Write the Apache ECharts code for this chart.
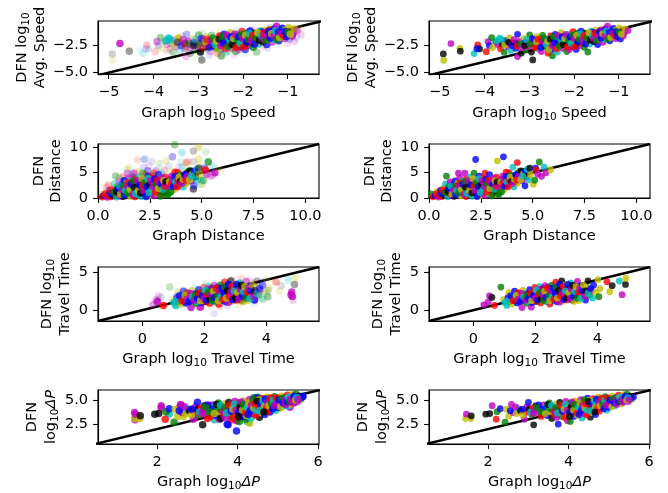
<!DOCTYPE html>
<html><head><meta charset="utf-8">
<style>html,body{margin:0;padding:0;background:#fff}#c{width:668px;height:493px}</style>
<script src="https://cdn.jsdelivr.net/npm/echarts@6/dist/echarts.min.js"></script>
</head><body><div id="c"></div>
<script>
// run index: 0 blue, 1 green, 2 red, 3 cyan, 4 magenta, 5 olive, 6 black
// Each point: [graph value, DFN value, run, weight]
const speedShared = [
[-4.92,-3.27,6,.2],[-4.91,-3.86,5,.2],[-4.75,-2.31,4,1],[-4.55,-2.75,5,.12],[-4.54,-3.02,6,.4],[-4.23,-3.24,3,.2],[-4.15,-2.44,2,.25],[-4.11,-2.81,6,.12],[-4.17,-2.78,0,.15],[-3.96,-3.06,2,.2],
[-3.92,-2.13,4,.5],[-3.89,-2.5,0,.2],[-3.84,-1.76,1,.4],[-3.82,-2.69,5,.15],[-3.75,-2.12,1,.3],[-3.7,-2.4,4,.3],[-3.66,-1.8,3,.9],[-3.64,-2.78,2,.2],[-3.6,-2.35,6,.2],[-3.56,-3.12,1,.3],
[-3.52,-2.05,0,.25],[-3.48,-2.6,4,.4],[-3.44,-1.79,5,.9],[-3.41,-2.95,3,.3],[-3.36,-2.25,2,.3],[-3.3,-2.75,0,.3],[-3.26,-1.45,0,.3],[-3.26,-3.52,4,.15],[-3.22,-2.1,4,.7],[-3.18,-3.2,6,.3],
[-3.15,-2.45,3,.4],[-3.12,-1.85,5,.4],[-3.08,-2.9,1,.3],[-3.04,-2.2,2,.5],[-2.99,-1.51,1,.5],[-2.96,-2.6,5,.5],[-2.95,-3.1,6,.9],[-2.92,-3.83,6,.45],[-2.9,-2,4,.8],[-2.86,-2.4,0,.5],
[-2.83,-1.7,5,.5],[-2.8,-2.8,3,.4],[-2.76,-2.1,6,.8],[-2.73,-3.05,4,.3],[-2.7,-1.55,1,.4],[-2.66,-2.5,6,1],[-2.62,-1.95,3,.7],[-2.58,-3.2,2,.3],[-2.55,-2.3,2,1],[-2.52,-1.6,2,.9],
[-2.5,-2.85,0,.5],[-2.48,-3.45,1,.5],[-2.45,-2.05,4,1],[-2.42,-1.45,0,.8],[-2.4,-2.55,5,.8],[-2.37,-3.1,3,.5],[-2.34,-1.85,1,.9],[-2.31,-2.3,2,1],[-2.28,-1.3,5,.8],[-2.25,-2.75,4,.6],
[-2.22,-1.65,6,.7],[-2.2,-2.1,0,1],[-2.16,-3.05,1,.5],[-2.13,-2.45,3,.9],[-2.1,-1.45,3,.8],[-2.07,-1.95,2,1],[-2.05,-2.6,6,.8],[-2.02,-1.2,2,.8],[-2,-2.2,5,1],[-1.97,-1.65,4,.9],
[-1.95,-2.85,0,.7],[-1.92,-1.35,1,1],[-1.9,-2,3,.9],[-1.87,-2.5,4,.8],[-1.84,-1.15,0,.9],[-1.82,-1.75,5,1],[-1.8,-2.3,2,1],[-1.77,-2.65,1,.8],[-1.75,-1.35,6,.7],[-1.73,-2,0,1],
[-1.69,-3.09,1,.25],[-1.68,-1.6,4,1],[-1.65,-2.35,3,.9],[-1.62,-1.15,3,1],[-1.6,-1.85,2,1],[-1.57,-1.45,1,1],[-1.55,-2.15,6,1],[-1.52,-1.1,5,1],[-1.5,-1.7,0,1],[-1.47,-2.4,0,.8],
[-1.45,-1.3,4,1],[-1.42,-1.95,5,1],[-1.4,-1.05,2,1],[-1.37,-1.6,3,1],[-1.35,-2.2,4,.7],[-1.32,-1.3,1,.9],[-1.3,-.95,0,1],[-1.27,-1.75,2,1],[-1.25,-.7,4,1],[-1.22,-1.45,5,1],
[-1.2,-2.05,0,.8],[-1.17,-1.1,3,1],[-1.15,-1.6,1,.9],[-1.12,-.9,0,1],[-1.1,-1.3,6,.9],[-1.07,-1.85,4,.7],[-1.05,-1.05,5,1],[-1,-1.45,3,1],[-.98,-.85,5,1],[-.96,-1.88,0,.3],
[-.93,-1.2,2,.9],[-.9,-1.6,4,1],[-.88,-1.35,4,1],[-.85,-.95,5,.9],[-.79,-1.11,4,.5],[-3.02,-2.55,4,.7],[-2.68,-2.25,0,.9],[-2.35,-2.05,6,.6],[-2.18,-2.3,1,1],[-1.86,-1.6,2,1],
[-2.78,-2.45,2,.9],[-2.6,-2.7,1,.8],[-2.44,-1.8,3,.9],[-2.1,-2.85,4,.5],[-1.95,-2.35,6,1],[-1.7,-2.2,5,.9],[-1.58,-1.25,0,1],[-1.33,-1.9,3,.9],[-3.3,-2.3,6,.5],[-3.1,-2.25,0,.6],
[-3.72,-2.05,3,.9],[-3.62,-1.95,3,.9],[-3.55,-2.45,5,.4],[-3.46,-2.2,6,.5],[-3.38,-2.5,0,.5],[-3.34,-1.95,4,.6],[-3.27,-2.55,2,.5],[-3.2,-2.35,1,.5],[-3.16,-2.7,4,.4],[-3.1,-2.5,6,.6],
[-3.06,-1.95,3,.5],[-2.98,-2.35,1,.6],[-2.93,-1.85,0,.6],[-2.88,-2.7,2,.5],[-2.84,-2.15,5,.7],[-2.8,-1.9,2,.7],[-2.74,-2.65,0,.7],[-2.7,-2.1,4,.9],[-2.67,-1.8,1,.8],[-2.62,-2.4,3,.9],
[-2.59,-2.1,5,.9],[-2.56,-2.85,5,.6],[-2.53,-1.9,6,.8],[-2.49,-2.5,4,.9],[-2.46,-1.65,1,.9],[-2.43,-2.25,0,1],[-2.39,-2.8,2,.7],[-2.36,-1.55,4,.9],[-2.33,-2.55,1,.9],[-2.29,-2,3,1],
[-2.27,-1.7,0,1],[-2.24,-2.4,6,.9],[-2.21,-1.85,5,1],[-2.18,-1.45,4,.9],[-2.15,-2.65,2,.9],[-2.12,-2,1,1],[-2.09,-1.7,0,1],[-2.06,-2.3,3,1],[-2.03,-1.5,1,1],[-2,-1.85,4,1],
[-1.98,-2.6,2,.9],[-1.94,-1.55,5,1],[-1.91,-2.15,0,1],[-1.88,-1.9,1,1],[-1.85,-1.4,3,1],[-1.81,-2,4,1],[-1.78,-1.55,2,1],[-1.74,-2.35,0,1],[-1.71,-1.8,1,1],[-1.67,-1.3,5,1],
[-1.63,-2,6,1],[-1.59,-1.6,3,1],[-1.56,-1.85,4,1],[-1.53,-1.35,2,1],[-1.49,-2,1,1],[-1.46,-1.55,4,1],[-1.43,-1.2,0,1],[-1.39,-1.8,0,1],[-1.36,-1.4,5,1],[-1.31,-1.6,4,1],
[-1.28,-1.15,3,1],[-1.24,-1.9,1,.9],[-1.21,-1.25,0,1],[-1.18,-1.75,5,1],[-1.14,-1.35,4,1],[-1.09,-1.6,2,1],[-1.06,-1.2,0,1],[-1.03,-1.65,0,.9],[-.99,-1.25,1,1],[-.94,-1.45,5,1]
];
const speedExtra = [
[-4.3,-2.9,3,.12],[-3.78,-2.9,5,.1],[-3.6,-3.05,1,.1],[-3.35,-1.6,0,.12],[-3.28,-3.5,4,.1],[-3.1,-3.55,5,.1],[-2.75,-3.4,0,.12],[-2.5,-3.5,2,.12],[-2.2,-3.35,4,.12],[-1.95,-3.2,3,.12],
[-1.7,-3.1,1,.15],[-1.45,-2.75,0,.12],[-1.2,-2.4,3,.12],[-1,-2.3,4,.15],[-.85,-2.1,4,.2],[-.72,-.95,5,.2],[-.7,-1.5,4,.2],[-.8,-1.75,0,.15],[-2.9,-1.35,1,.12],[-2.5,-1.25,5,.15],
[-2.15,-1.05,3,.15],[-1.8,-.95,4,.15],[-1.4,-.8,1,.2],[-3.5,-1.9,2,.12],[-3.9,-2.7,5,.12],[-3.7,-2.95,4,.12],[-3.3,-3.15,2,.12],[-2.95,-3.4,3,.12],[-2.3,-2.95,5,.15],[-1.55,-2.6,2,.15]
];
const speedTicks = [-5,-4,-3,-2,-1];
const speedYTicks = [-5,-2.5];

const distanceShared = [
[.11,.8,1,.2],[.2,.25,2,1],[.3,.5,0,.6],[.38,1.2,5,.3],[.45,.2,4,.9],[.5,.8,1,.5],[.55,1.5,0,.5],[.62,.3,2,.9],[.68,1.1,4,.7],[.72,2,5,.4],
[.75,.5,6,.9],[.8,2.8,3,.5],[.84,4.33,1,.25],[.85,1.5,0,.8],[.9,.25,3,.9],[.95,2.2,1,.5],[1,.9,2,.9],[1.02,3.2,4,.4],[1.08,1.7,5,.7],[1.12,.4,4,1],
[1.15,2.6,0,.7],[1.2,1.1,1,.9],[1.22,.35,6,1],[1.27,3.4,0,.9],[1.3,2,2,.9],[1.34,.8,3,.9],[1.38,2.9,5,.6],[1.42,4.9,4,.4],[1.45,1.4,0,1],[1.48,3.9,4,.6],
[1.52,2.3,1,.9],[1.55,.4,5,1],[1.58,3.3,3,.8],[1.63,1,2,1],[1.65,1.8,4,.9],[1.7,2.8,6,.9],[1.73,4.9,4,.5],[1.78,.3,2,.9],[1.8,3.7,2,.8],[1.84,1.4,0,1],
[1.86,2.4,5,.9],[1.9,2.95,6,.9],[1.93,.7,1,1],[1.98,4.1,3,.7],[2,1.9,4,1],[2.05,3.3,0,.9],[2.08,.35,3,1],[2.1,2.9,6,.9],[2.13,1.2,2,1],[2.17,4.9,1,.5],
[2.2,2.1,5,1],[2.25,7.6,0,.2],[2.27,3.6,4,.8],[2.3,.8,1,1],[2.33,2.6,3,1],[2.38,1.5,6,1],[2.42,4.3,0,.7],[2.45,.4,5,1],[2.5,3.2,1,.9],[2.53,2,2,1],
[2.57,.9,4,1],[2.6,3.9,2,.8],[2.63,2.7,5,1],[2.67,1.4,1,1],[2.7,4.9,2,.5],[2.72,.5,4,1],[2.78,3.3,3,1],[2.83,2,0,1],[2.87,1,5,1],[2.92,4.6,0,.7],
[2.95,2.6,4,1],[3,1.5,6,1],[3.03,3.6,5,.9],[3.08,.8,2,1],[3.12,2.3,1,1],[3.15,3,3,1],[3.2,1.2,6,1],[3.25,4.1,2,.8],[3.3,7.33,5,.25],[3.33,1.9,4,1],
[3.38,.9,1,1],[3.42,2.8,0,1],[3.48,3.6,2,1],[3.52,2,3,1],[3.56,4.3,4,.8],[3.59,8.13,0,.35],[3.62,1.7,5,.9],[3.67,3.1,6,1],[3.72,5.1,2,.8],[3.76,2.5,0,1],
[3.8,3.9,3,1],[3.85,5,2,.8],[3.9,3,4,1],[3.95,4.5,1,.9],[4,2.7,5,.9],[4.05,6.07,3,.3],[4.08,3.6,0,1],[4.1,2.2,3,.8],[4.15,4.2,6,1],[4.2,3.2,1,.9],
[4.26,7,2,.3],[4.26,2.87,5,.8],[4.3,4.9,6,1],[4.34,3.7,3,.9],[4.38,5.3,1,.9],[4.45,4.1,2,1],[4.45,5.33,6,.9],[4.5,3.4,4,.8],[4.55,4.7,5,1],[4.63,2.4,0,.5],
[4.65,5.3,0,1],[4.7,4.2,6,1],[4.75,5.7,3,.5],[4.8,3.6,3,.7],[4.86,5.87,6,.6],[4.9,4.6,5,.6],[5.03,2.73,5,.3],[5.1,3.5,1,.4],[5.14,5.9,0,.4],[5.18,5.53,2,1],
[5.25,4.7,4,.6],[5.32,7.13,1,.7],[5.43,4.27,4,.3],[5.55,6.07,3,.2],[5.64,5,4,1],[5.87,5.53,5,.2],[1.6,2,3,.9],[2.4,3.4,2,1],[2.9,3.2,4,1],[3.3,2.6,2,1],
[.35,.8,2,.8],[.6,.9,0,.9],[.65,1.6,2,.7],[.78,1.1,1,.8],[.92,1.3,6,.9],[.98,1.8,0,.8],[1.05,2.3,3,.7],[1.1,.8,5,.9],[1.18,1.6,4,.9],[1.25,2.4,1,.8],
[1.28,.6,0,1],[1.33,1.5,3,.9],[1.4,2.45,4,.8],[1.43,1,1,1],[1.5,3,2,.8],[1.56,1.7,5,.9],[1.6,2.7,0,.9],[1.68,.7,4,1],[1.72,3.3,1,.8],[1.76,2,6,1],
[1.82,.9,3,1],[1.88,3.4,4,.8],[1.95,1.5,5,1],[2.02,2.5,0,1],[2.06,1,6,1],[2.12,3.8,5,.8],[2.16,2.5,2,1],[2.22,1.4,4,1],[2.26,3,1,1],[2.32,.3,0,1],
[2.37,2.2,0,1],[2.41,3.8,3,.9],[2.47,1.1,3,1],[2.52,2.6,6,1],[2.56,3.4,4,1],[2.62,1.7,3,1],[2.66,2.3,4,1],[2.74,3.7,0,1],[2.78,1.2,2,1],[2.81,2.7,1,1],
[2.88,3.5,2,1],[2.93,1.9,5,1],[2.98,3,4,1],[3.02,.4,1,1],[3.06,2.7,0,1],[3.1,3.9,4,.9],[3.14,1.7,3,1],[3.18,3.4,5,1],[3.22,2.3,2,1],[3.28,3.2,6,1],
[3.35,.7,1,1],[3.4,2.3,4,1],[3.46,3.2,5,1],[3.5,1.2,1,1],[3.55,2.8,2,1],[3.6,3.7,4,1],[3.64,2.3,0,1],[3.7,4.2,0,1],[3.75,3.2,3,1],[3.82,2.2,2,1],
[3.88,3.5,2,1],[3.92,4.1,5,1],[3.98,3.3,6,1],[4.04,2.9,4,1],[4.12,3.7,5,1],[4.18,4.6,0,1],[4.24,3.6,2,1],[4.32,4.3,4,1],[4.42,3.6,5,1],[4.52,4.3,3,1]
];
const distanceExtra = [
[.5,2.5,2,.3],[.85,4.4,1,.15],[1.1,3.8,3,.12],[1.4,5.6,1,.15],[1.5,6,5,.2],[1.9,7.5,2,.15],[2.2,7.7,3,.15],[2.45,6.3,4,.15],[2.6,7.2,0,.12],[2.9,7,5,.1],
[2.9,5.9,3,.12],[3,6.8,1,.1],[3.2,5.5,2,.2],[3.4,6.3,0,.12],[3.7,10.5,1,.4],[4.05,9,3,.3],[4.3,6.6,5,.15],[4.35,7.2,2,.12],[4.6,9.3,6,.25],[4.6,7.2,6,.15],
[4.85,10,5,.4],[4.85,7.8,5,.3],[5.2,9.1,1,.15],[5.3,7.4,3,.12],[5.5,6.6,3,.12],[4,7.1,3,.15],[3.9,6.1,4,.15],[3.1,.7,4,.2],[3.75,1.8,1,.2],[4.6,1.8,6,.6],
[5,3.4,3,.5],[4.95,2.7,3,.2],[5.1,5.6,5,.15],[5.55,4.5,4,.25],[2.2,6,0,.15],[1.8,5,2,.2],[3.5,5.4,5,.2],[1,4,1,.2],[.4,2.1,2,.2],[4.9,6.6,5,.2],
[1.2,4.2,2,.3],[1.6,4.6,3,.3],[2,5.2,5,.3],[2.4,5.4,0,.4],[2.8,5.4,4,.3],[1.3,3.2,5,.4],[1.7,4.1,6,.4],[2.3,4.6,2,.5],[2.65,4.4,1,.5],[3.05,4.9,3,.4]
];
const distanceTicks = [0,2.5,5,7.5,10];
const distanceYTicks = [0,5,10];

const travelShared = [
[.34,.7,4,.4],[.48,1.1,4,.9],[.52,1.9,4,.2],[.6,1.68,6,.15],[.68,.62,2,1],[.89,3.05,1,.15],[.98,1.4,5,.3],[1.02,1,3,1],[1.08,.62,3,1],[1.12,1.7,0,.7],
[1.15,2.3,5,.4],[1.18,1.1,1,.9],[1.22,1.5,4,.9],[1.25,.8,5,.9],[1.3,1.9,3,.7],[1.33,2.5,0,.6],[1.36,1.2,6,.8],[1.4,1.7,2,.8],[1.42,.95,0,.9],[1.47,2.2,1,.6],
[1.5,1.4,3,.9],[1.54,1.9,4,.9],[1.57,.35,4,1],[1.6,2.6,5,.5],[1.63,1.1,5,.9],[1.66,1.6,0,1],[1.7,2.2,3,.8],[1.73,.9,1,.9],[1.76,2.1,6,.9],[1.79,1.35,2,1],
[1.82,2.7,0,.7],[1.85,1.75,5,.9],[1.87,.4,4,1],[1.9,1,0,1],[1.93,2.3,1,.9],[1.96,1.5,3,.9],[1.99,3,2,.5],[2.02,1.9,4,1],[2.05,1.15,6,.9],[2.08,2.5,5,.9],
[2.11,1.6,1,.9],[2.14,3.1,3,.6],[2.17,.95,2,.9],[2.2,2.2,0,1],[2.22,1.35,5,1],[2.25,2.85,6,.8],[2.28,1.8,2,1],[2.32,3.25,4,.6],[2.35,1.1,3,.9],[2.38,2.4,1,1],
[2.41,1.55,4,1],[2.44,3,0,.9],[2.47,.8,2,.8],[2.5,2,5,1],[2.53,3.3,1,.8],[2.56,1.3,0,1],[2.6,2.6,2,1],[2.63,1.8,6,1],[2.66,3.7,2,.7],[2.7,1.1,0,.9],
[2.73,2.3,3,1],[2.76,3.1,4,.9],[2.79,1.5,1,.9],[2.82,2.05,6,1],[2.85,3.85,6,.6],[2.88,1.2,5,.9],[2.9,2.7,0,1],[2.94,1.7,3,.9],[2.97,3.3,5,.9],[3,2.2,4,1],
[3.03,1.35,2,.9],[3.06,3,1,.9],[3.1,1.9,5,1],[3.14,3.6,3,.7],[3.17,2.45,0,1],[3.2,1.3,6,.8],[3.24,2.9,2,.9],[3.28,1.7,4,.8],[3.32,2.15,6,.9],[3.36,3.8,4,.5],
[3.4,1.3,5,.7],[3.44,2.6,1,.8],[3.48,3.2,0,.7],[3.52,1.8,3,.7],[3.56,2.3,2,.8],[3.62,1.33,0,.9],[3.66,3,5,.5],[3.7,3.85,6,.3],[3.75,2,1,.5],[3.8,2.6,4,.5],
[3.85,1.6,3,.3],[3.88,3.3,0,.5],[3.95,2.35,5,.3],[4.02,4.03,5,.2],[4.05,1.77,1,.4],[4.08,2.83,5,.2],[4.31,3.76,2,.2],[4.4,2.43,5,.1],[4.48,3.23,6,.15],[4.71,3.85,3,.15],
[4.8,2.04,4,1],[4.91,3.4,6,.4],[4.92,4.2,5,.15],[1.45,2.3,2,.5],[1.75,1.15,3,.9],[2.12,2.75,4,.8],[2.36,1.9,3,1],[2.58,2.25,4,.9],[2.68,2.8,5,1],[2.84,1.5,4,1],
[3.02,2.7,6,.9],[3.2,2.05,1,.9],[1.35,1.55,1,.9],[1.58,1.35,6,.8],[1.98,1.25,2,.9],[2.18,1.7,3,.9],[2.42,2.7,6,.9],[2.78,1.05,4,.8],[2.95,2.15,2,1],[3.25,1.15,5,.8],
[1.1,1.25,3,1],[1.2,1.9,0,.8],[1.28,1.25,2,.8],[1.38,1.95,5,.8],[1.44,1.45,4,.9],[1.52,1.15,0,.9],[1.56,2.2,4,.8],[1.62,1.75,3,.9],[1.68,1.3,4,.9],[1.72,1.95,1,.9],
[1.78,1.55,0,1],[1.84,2.25,2,.9],[1.88,1.25,5,.9],[1.94,1.95,0,1],[2,1.55,4,1],[2.03,2.6,3,.9],[2.07,1.35,0,1],[2.1,2.05,2,1],[2.15,2.35,1,1],[2.19,1.5,6,.9],
[2.24,2.05,4,1],[2.27,1.25,1,.9],[2.3,2.5,5,.9],[2.34,1.7,0,1],[2.39,2.9,2,.9],[2.43,1.9,1,1],[2.46,1.25,5,.9],[2.5,2.5,4,1],[2.54,1.75,3,1],[2.57,2.9,0,1],
[2.6,1.45,2,1],[2.64,2.2,0,1],[2.67,3.05,1,.9],[2.71,1.6,5,1],[2.75,2.6,6,1],[2.78,3.4,0,1],[2.81,1.85,2,1],[2.86,2.35,4,1],[2.9,3.15,2,.9],[2.93,1.4,0,1],
[2.97,2.55,3,1],[3.01,1.65,6,1],[3.04,3.4,0,.9],[3.08,2.3,5,1],[3.12,1.55,4,.9],[3.16,2.75,4,.9],[3.2,3.3,6,.9],[3.23,1.85,0,1],[3.27,2.45,3,.9],[3.31,3.1,5,.8],
[3.35,1.6,1,.8],[3.39,2.35,2,.9],[3.43,2.9,4,.8],[3.47,1.55,3,.8],[3.51,2.6,0,.8],[3.55,3.3,5,.6],[3.59,1.85,4,.7],[3.63,2.55,6,.6],[3.7,2.2,3,.6],[3.78,2.85,0,.6]
];
const travelExtra = [
[.45,1.4,4,.3],[.5,1.2,4,.3],[.88,3.05,1,.12],[2.32,-.45,0,.12],[2.75,.6,0,.12],[1.9,.5,2,.2],[2.2,.6,5,.15],[3.2,4.2,2,.15],[3.45,4,4,.12],[3.6,3.6,2,.2],
[4.32,3.7,2,.2],[4.7,4.2,3,.15],[4.95,4.3,5,.15],[4.82,2.4,4,.8],[4.84,1.8,4,.9],[4.86,1.3,4,.2],[4.45,2.5,5,.12],[4.08,3,5,.15],[3.9,1.4,1,.2],[3.6,.9,3,.15],
[3.1,.7,5,.2],[2.5,.55,2,.2],[1.3,2.7,5,.15],[1.7,3,3,.15],[2.05,3.45,1,.12],[2.55,3.6,5,.12],[2.9,4,2,.2],[3.85,3.8,0,.12],[4,2.1,3,.15],[4.05,2.6,1,.25]
];
const travelTicks = [0,2,4];
const travelYTicks = [0,5];

const pressureShared = [
[1.44,3.09,5,.95],[1.46,3.54,4,.95],[1.57,3.09,5,.95],[1.58,3.37,6,.95],[1.94,3.54,6,.95],[2.04,3.6,6,.95],[2.1,4.41,4,.95],[2.2,3.02,2,.95],[2.22,3.8,1,.95],[2.3,4.1,0,.95],
[2.42,2.71,1,.95],[2.45,4.05,5,.95],[2.51,3.33,5,.95],[2.58,4.55,4,.95],[2.62,3.7,4,.95],[2.7,3.6,5,.95],[2.75,4.1,3,.95],[2.8,3.9,6,.95],[2.9,3,4,.95],[2.93,3.7,2,.95],
[2.96,4.3,4,.95],[3,4.76,0,.95],[3.02,4.05,6,.95],[3.08,3.5,1,.95],[3.13,2.43,6,.95],[3.18,4.4,6,.95],[3.22,3.7,4,.95],[3.27,4.15,3,.95],[3.32,3.3,2,.95],[3.37,4.5,4,.95],
[3.4,3.9,3,.95],[3.44,4.35,3,.95],[3.47,3.4,0,.95],[3.52,4.7,1,.95],[3.55,3.75,5,.95],[3.58,3.1,6,.95],[3.62,4.3,0,.95],[3.66,3.5,2,.95],[3.7,4.6,5,.95],[3.74,2.5,0,.95],
[3.76,3.95,6,.95],[3.78,4.75,6,.95],[3.82,3.3,1,.95],[3.86,4.3,3,.95],[3.9,3.7,4,.95],[3.93,4.85,4,.95],[3.97,2.85,4,.95],[4,4.1,2,.95],[4.04,2.78,1,.95],[4.07,3.6,3,.95],
[4.1,4.5,2,.95],[4.13,3.3,0,.95],[4.16,4.9,5,.95],[4.19,4,1,.95],[4.22,3.4,5,.95],[4.25,4.55,6,.95],[4.27,3.8,2,.95],[4.3,5.05,4,.95],[4.33,3.15,3,.95],[4.36,4.25,0,.95],
[4.39,3.6,4,.95],[4.42,4.85,3,.95],[4.44,4,1,.95],[4.47,5.2,0,.95],[4.5,4.4,6,.95],[4.54,3.23,6,.95],[4.56,3.7,5,.95],[4.58,4.8,1,.95],[4.61,5.15,2,.95],[4.64,4.1,4,.95],
[4.67,3.5,0,.95],[4.7,4.6,3,.95],[4.73,5.3,5,.95],[4.76,3.85,2,.95],[4.79,4.9,0,.95],[4.82,4.3,6,.95],[4.85,5.1,4,.95],[4.88,4.55,2,.95],[4.91,5.35,1,.95],[4.94,3.95,3,.95],
[4.97,4.8,5,.95],[5,4.25,0,.95],[5.03,5.15,6,.95],[5.06,4.6,4,.95],[5.09,5.4,5,.95],[5.12,4.95,2,.95],[5.15,4.4,3,.95],[5.18,5.25,0,.95],[5.2,4.75,1,.95],[5.24,5.5,2,.95],
[5.27,5,4,.95],[5.3,4.6,5,.95],[5.33,5.3,3,.95],[5.36,5.55,5,.95],[5.39,4.95,0,.95],[5.42,5.2,4,.95],[5.45,5.6,1,.95],[5.48,4.85,4,.95],[5.52,5.4,6,.95],[5.56,5.1,1,.95],
[5.61,5.31,0,.95],[3.35,4.05,0,.95],[3.6,4.0,2,.95],[3.95,3.45,5,.95],[4.05,4.7,1,.95],[4.18,4.35,3,.95],[4.35,4.75,2,.95],[4.52,5,5,.95],[4.62,4.45,0,.95],[4.75,5.05,3,.95],
[4.9,4.7,4,.95],[5.05,4.9,3,.95],[5.22,5.15,5,.95],[2.85,3.45,5,.95],[3.1,4.15,2,.95],[3.25,4.5,0,.95],[3.5,4.1,1,.95],[3.7,3.2,4,.95],[4.1,3.85,6,.95],[4.45,3.45,2,.95],
[2.55,3.9,0,.95],[2.68,4.3,4,.95],[2.85,4.05,0,.95],[3.05,3.75,3,.95],[3.15,3.95,4,.95],[3.3,3.75,1,.95],[3.42,3.6,5,.95],[3.48,4.55,6,.95],[3.57,4.45,3,.95],[3.65,3.85,4,.95],
[3.68,4.2,1,.95],[3.72,3.65,3,.95],[3.8,4.45,2,.95],[3.84,3.85,0,.95],[3.88,4.05,5,.95],[3.92,4.55,3,.95],[3.96,3.95,4,.95],[4.02,3.7,0,.95],[4.06,4.3,6,.95],[4.09,4.8,4,.95],
[4.12,3.95,5,.95],[4.15,4.55,1,.95],[4.2,3.65,2,.95],[4.24,4.25,3,.95],[4.28,4.7,5,.95],[4.31,3.9,0,.95],[4.34,4.45,4,.95],[4.38,5.05,1,.95],[4.4,4.15,5,.95],[4.43,4.6,2,.95],
[4.46,3.95,3,.95],[4.49,4.85,6,.95],[4.53,4.25,2,.95],[4.57,4.55,0,.95],[4.6,3.95,1,.95],[4.63,4.9,3,.95],[4.66,4.3,5,.95],[4.69,5.1,0,.95],[4.72,4.1,2,.95],[4.74,4.75,4,.95],
[4.78,4.4,5,.95],[4.81,5.2,2,.95],[4.84,4.65,1,.95],[4.87,4.1,0,.95],[4.89,5,3,.95],[4.92,4.45,4,.95],[4.96,5.25,2,.95],[4.99,4.65,4,.95],[5.02,5,0,.95],[5.07,4.3,5,.95],
[5.1,5.15,1,.95],[5.13,4.7,0,.95],[5.17,5,4,.95],[5.19,4.55,4,.95],[5.23,4.85,0,.95],[5.26,5.3,3,.95],[5.29,4.85,1,.95],[5.32,5.1,4,.95],[5.35,4.75,4,.95],[5.4,5.4,0,.95],
[5.44,5,5,.95],[5.47,5.25,3,.95],[5.5,5.05,4,.95],[3.2,4.25,1,.95],[3.12,3.6,4,.95],[3.9,3.2,2,.95],[4.02,3.3,6,.95],[4.26,3.5,0,.95],[4.55,3.9,3,.95],[4.65,3.75,6,.95]
];
const pressureExtra = [
[1.45,2.95,4,.95],[1.44,3.7,4,.95],[2.1,4.2,4,.95],[2.3,3.55,3,.95],[2.55,4.2,4,.95],[2.6,4.45,4,.95],[2.65,3.3,5,.95],[2.9,4.05,6,.95],[2.95,3.3,1,.95],[3.25,3.1,2,.95],
[3.42,2.95,3,.95],[3.55,3,4,.95],[3.76,2.43,0,.95],[3.97,1.8,0,.95],[3.85,2.95,2,.95],[4.25,2.75,3,.95],[4.3,2.6,5,.95],[4.2,3,1,.95],[4.5,5.3,1,.95],[5.05,4.15,5,.95],
[5.3,4.25,4,.95],[5.62,5.4,0,.95],[3.3,4.4,4,.95],[3.5,4.55,3,.95],[4,3.05,4,.95],[4.7,3.85,0,.95],[4.8,3.75,0,.95],[5.25,4.4,3,.95],[5.4,4.7,4,.95],[4.4,5.25,1,.95]
];
const pressureTicks = [2,4,6];
const pressureYTicks = [2.5,5];

const runColors = ['#0000ff','#008000','#ff0000','#00bfbf','#bf00bf','#bfbf00','#000000'];
const axisRanges = {speedX:[-5.24,-0.3],speedY:[-5.13,-0.22],distance:[0,10.66],travel:[-1.43,5.7],pressureX:[0.53,6.02],pressureY:[0.45,6.04]};

const FS = 14.5;
const font = 'DejaVu Sans';
const rich = {
  sub:{fontFamily:font,fontSize:10.5,lineHeight:20,verticalAlign:'bottom'},
  it:{fontFamily:font,fontSize:FS,fontStyle:'italic',lineHeight:17}
};
const rows = [
 {shared:speedShared,extra:speedExtra,xr:axisRanges.speedX,yr:axisRanges.speedY,xt:speedTicks,yt:speedYTicks,top:21,h:53,
  xn:'Graph log{sub|10} Speed',yn:'DFN log{sub|10}\nAvg. Speed',yg:49,xg:29,xf:v=>String(v).replace('-','\u2212'),yf:v=>v.toFixed(1).replace('-','\u2212')},
 {shared:distanceShared,extra:distanceExtra,xr:axisRanges.distance,yr:axisRanges.distance,xt:distanceTicks,yt:distanceYTicks,top:144,h:54,
  xn:'Graph Distance',yn:'DFN\nDistance',yg:33,xg:30,xf:v=>v.toFixed(1),yf:v=>String(v)},
 {shared:travelShared,extra:travelExtra,xr:axisRanges.travel,yr:axisRanges.travel,xt:travelTicks,yt:travelYTicks,top:267,h:54,
  xn:'Graph log{sub|10} Travel Time',yn:'DFN log{sub|10}\nTravel Time',yg:24,xg:28,xf:v=>String(v),yf:v=>String(v)},
 {shared:pressureShared,extra:pressureExtra,xr:axisRanges.pressureX,yr:axisRanges.pressureY,xt:pressureTicks,yt:pressureYTicks,top:390,h:54,
  xn:'Graph log{sub|10}{it|\u0394P}',yn:'DFN\nlog{sub|10}{it|\u0394P}',yg:37,xg:28,xf:v=>String(v),yf:v=>v.toFixed(1)}
];
const colLeft = [98,429];
const W = 221;

const grid=[],xAxis=[],yAxis=[],series=[];
function rgba(hex,a){const n=parseInt(hex.slice(1),16);return `rgba(${n>>16},${(n>>8)&255},${n&255},${Math.min(1,a)})`;}
rows.forEach((r,ri)=>{
  [0,1].forEach(col=>{
    const i=grid.length;
    grid.push({left:colLeft[col],top:r.top,width:W,height:r.h,show:true,borderColor:'#000',borderWidth:1.1,backgroundColor:'transparent'});
    const common={splitLine:{show:false},axisLine:{show:true,onZero:false,lineStyle:{color:'#000',width:1.1}},
      nameTextStyle:{fontFamily:font,fontSize:FS,color:'#000',lineHeight:17,rich}};
    xAxis.push(Object.assign({},common,{gridIndex:i,type:'value',min:r.xr[0],max:r.xr[1],name:r.xn,nameLocation:'middle',nameGap:r.xg,
      axisTick:{show:true,length:4.9,lineStyle:{color:'#000',width:1.1},customValues:r.xt},
      axisLabel:{show:true,color:'#000',fontFamily:font,fontSize:FS,margin:10.5,customValues:r.xt,formatter:r.xf,hideOverlap:false}}));
    yAxis.push(Object.assign({},common,{gridIndex:i,type:'value',min:r.yr[0],max:r.yr[1],name:r.yn,nameLocation:'middle',nameRotate:90,nameGap:r.yg,
      axisTick:{show:true,length:4.9,lineStyle:{color:'#000',width:1.1},customValues:r.yt},
      axisLabel:{show:true,color:'#000',fontFamily:font,fontSize:FS,margin:10,customValues:r.yt,formatter:r.yf,hideOverlap:false}}));
    const lo=Math.min(r.xr[0],r.yr[0]),hi=Math.max(r.xr[1],r.yr[1]);
    series.push({type:'line',xAxisIndex:i,yAxisIndex:i,data:[[lo,lo],[hi,hi]],showSymbol:false,symbol:'none',clip:true,silent:true,z:2,lineStyle:{color:'#000',width:2.5}});
    const pts = col===0 ? r.extra.concat(r.shared) : r.shared;
    series.push({type:'scatter',xAxisIndex:i,yAxisIndex:i,z:3,symbol:'circle',symbolSize:col===0?7.5:6.8,clip:true,silent:true,
      data:pts.map(p=>({value:[p[0],p[1]],itemStyle:{color:rgba(runColors[p[2]],col===0?p[3]*1.15:1)}}))});
  });
});
const chart=echarts.init(document.getElementById('c'),null,{renderer:'canvas'});
chart.setOption({animation:false,backgroundColor:'#fff',grid,xAxis,yAxis,series,tooltip:{show:false}});
</script></body></html>
